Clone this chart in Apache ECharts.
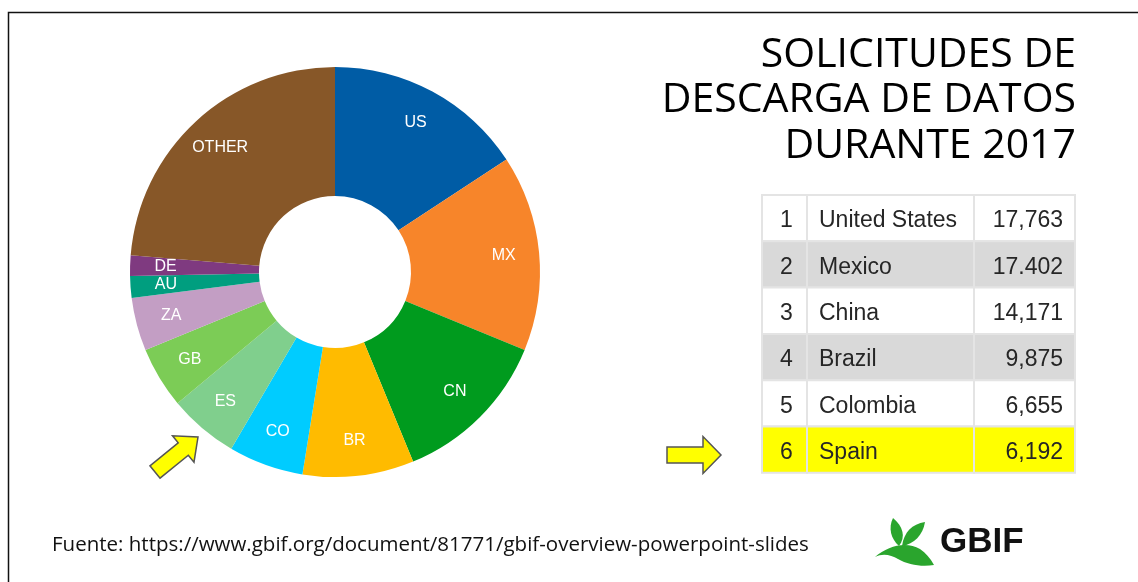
<!DOCTYPE html>
<html>
<head>
<meta charset="utf-8">
<script src="https://cdn.jsdelivr.net/npm/echarts@6/dist/echarts.min.js"></script>
<style>
  html, body { margin: 0; padding: 0; background: #fff; }
  #main { width: 1138px; height: 582px; }
</style>
</head>
<body>
<div id="main"></div>
<script>
// donut: downloads by country (2017)
var codes = ['US', 'MX', 'CN', 'BR', 'CO', 'ES', 'GB', 'ZA', 'AU', 'DE', 'OTHER'];
var downloads = [17763, 17402, 14171, 9875, 6655, 6192, 5450, 4730, 1940, 1815, 26700];
var sliceColors = ['#005ca5', '#f7852a', '#009b1e', '#ffbb00', '#00ccff', '#80cf8d',
                   '#7ccc56', '#c39ec4', '#009e7f', '#7f3a80', '#875728'];

// ranking table
var ranks = ['1', '2', '3', '4', '5', '6'];
var countries = ['United States', 'Mexico', 'China', 'Brazil', 'Colombia', 'Spain'];
var tableValues = ['17,763', '17.402', '14,171', '9,875', '6,655', '6,192'];

var titleLines = ['SOLICITUDES DE', 'DESCARGA DE DATOS', 'DURANTE 2017'];
var sourceText = 'Fuente: https://www.gbif.org/document/81771/gbif-overview-powerpoint-slides';

// logo leaves, registered as shapes so the graphic component can use them
echarts.graphic.registerShape('leafA', echarts.graphic.extendPath(
    'M893,518 C903,526 906,537 899,546 C891,539 888,528 893,518 Z'));
echarts.graphic.registerShape('leafB', echarts.graphic.extendPath(
    'M902,546 C904,532 912,524 925,522 C923,535 914,544 902,546 Z'));
echarts.graphic.registerShape('leafC', echarts.graphic.extendPath(
    'M875,557 C888,546 906,541 920,549 C926,553 930,558 934,565 C922,567 908,565 898,559 C891,555 883,553 875,557 Z'));

var chart = echarts.init(document.getElementById('main'));

var pieData = codes.map(function (c, i) {
    return {name: c, value: downloads[i], itemStyle: {color: sliceColors[i]}};
});
var labelData = codes.map(function (c, i) {
    return {name: c, value: downloads[i]};
});

var graphics = [];

// frame
graphics.push({
    type: 'rect', silent: true, z: 0,
    shape: {x: 8.5, y: 12.5, width: 1140, height: 600},
    style: {fill: null, stroke: '#111', lineWidth: 1.5}
});

// title
titleLines.forEach(function (t, i) {
    graphics.push({
        type: 'text', z: 10,
        style: {
            text: t, x: 1076, y: 55 + i * 45.5,
            font: '41px "Open Sans"', fill: '#000',
            textAlign: 'right', textVerticalAlign: 'middle'
        }
    });
});

// table
var tx = [762, 807, 974, 1075];
var ty0 = 195, rowH = 46.3;
ranks.forEach(function (r, i) {
    var y = ty0 + i * rowH;
    var fill = (i === 5) ? '#ffff00' : (i % 2 === 1 ? '#d9d9d9' : '#ffffff');
    for (var c = 0; c < 3; c++) {
        graphics.push({
            type: 'rect', z: 5,
            shape: {x: tx[c], y: y, width: tx[c + 1] - tx[c], height: rowH},
            style: {fill: fill, stroke: '#e4e4e4', lineWidth: 2}
        });
    }
    var font = '23px "Liberation Sans"';
    var ty = y + rowH / 2 + 3;
    graphics.push({type: 'text', z: 6, style: {text: r, x: (tx[0] + tx[1]) / 2 + 2, y: ty,
        font: font, fill: '#262626', textAlign: 'center', textVerticalAlign: 'middle'}});
    graphics.push({type: 'text', z: 6, style: {text: countries[i], x: 819, y: ty,
        font: font, fill: '#262626', textAlign: 'left', textVerticalAlign: 'middle'}});
    graphics.push({type: 'text', z: 6, style: {text: tableValues[i], x: 1063, y: ty,
        font: font, fill: '#262626', textAlign: 'right', textVerticalAlign: 'middle'}});
});

// arrows
function arrowPoints(x0, y0, x1, y1, shaftW, headW, headL) {
    var dx = x1 - x0, dy = y1 - y0;
    var len = Math.sqrt(dx * dx + dy * dy);
    var ux = dx / len, uy = dy / len, nx = -uy, ny = ux;
    var local = [[0, -shaftW], [len - headL, -shaftW], [len - headL, -headW], [len, 0],
                 [len - headL, headW], [len - headL, shaftW], [0, shaftW]];
    return local.map(function (p) {
        return [x0 + ux * p[0] + nx * p[1], y0 + uy * p[0] + ny * p[1]];
    });
}
graphics.push({
    type: 'polygon', z: 8,
    shape: {points: arrowPoints(667, 455, 721, 455, 8, 18.5, 18)},
    style: {fill: '#ffff00', stroke: '#555', lineWidth: 1.5}
});
graphics.push({
    type: 'polygon', z: 8,
    shape: {points: arrowPoints(155, 472, 198, 437, 8, 17, 19)},
    style: {fill: '#ffff00', stroke: '#555', lineWidth: 1.5}
});

// source
graphics.push({
    type: 'text', z: 10,
    style: {text: sourceText, x: 52, y: 545, font: '20.5px "Open Sans"', fill: '#111',
        textAlign: 'left', textVerticalAlign: 'middle'}
});

// GBIF logo
var leafGreen = '#2aa52d';
graphics.push({type: 'leafA', z: 10, style: {fill: leafGreen}});
graphics.push({type: 'leafB', z: 10, style: {fill: leafGreen}});
graphics.push({type: 'leafC', z: 10, style: {fill: leafGreen}});
graphics.push({
    type: 'text', z: 10,
    style: {text: 'GBIF', x: 940, y: 542, font: 'bold 35px "Liberation Sans"', fill: '#111',
        textAlign: 'left', textVerticalAlign: 'middle'}
});

var option = {
    backgroundColor: '#fff',
    animation: false,
    series: [
        {
            type: 'pie',
            center: [335, 272],
            radius: [76, 205],
            startAngle: 90,
            clockwise: true,
            label: {show: false},
            labelLine: {show: false},
            data: pieData
        },
        {
            // label ring, placed further out than the slice middle
            type: 'pie',
            silent: true,
            center: [335, 272],
            radius: [128, 205],
            startAngle: 90,
            clockwise: true,
            itemStyle: {color: 'rgba(0,0,0,0)'},
            label: {
                show: true,
                position: 'inside',
                formatter: '{b}',
                color: '#fff',
                fontSize: 16,
                fontFamily: 'Liberation Sans'
            },
            labelLine: {show: false},
            data: labelData
        }
    ],
    graphic: graphics
};

chart.setOption(option);
</script>
</body>
</html>
